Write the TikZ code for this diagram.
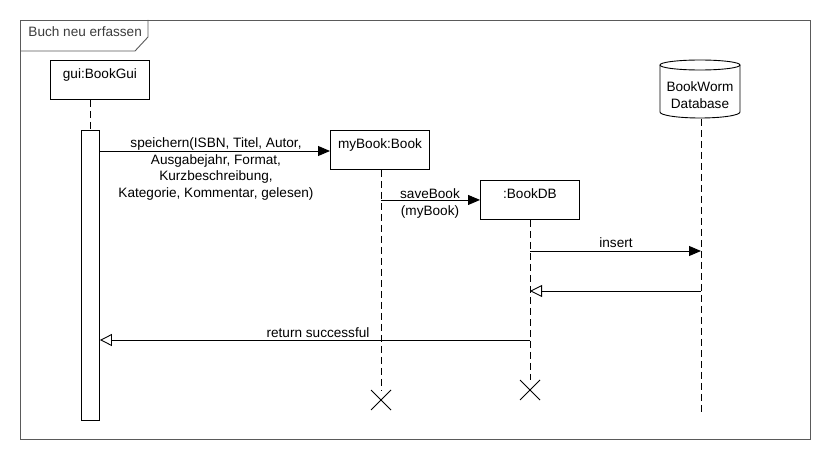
\documentclass[tikz,border=0pt]{standalone}
\usepackage{fontspec}
\setmainfont{Liberation Sans}
\usetikzlibrary{arrows.meta,calc}
\definecolor{framecol}{HTML}{5A5A5A}
\definecolor{labelcol}{HTML}{3C3C3C}
\begin{document}
\begin{tikzpicture}[x=1pt,y=-1pt,
  font=\fontsize{13.6}{16.5}\selectfont,
  line width=0.9pt,
  objbox/.style={draw, inner sep=0pt, minimum width=99pt, anchor=north west, text height=18pt, text depth=21pt},
  life/.style={dash pattern=on 7pt off 4pt},
  call/.style={-{Triangle[length=12pt,width=10pt]}},
  reply/.style={-{Triangle[open,length=12pt,width=12pt]}},
  xmark/.style={line width=0.9pt},
  lbl/.style={inner sep=0pt}]
\useasboundingbox (0,0) rectangle (830,460);
\fill[white] (0,0) rectangle (830,460);
% frame
\node[draw=framecol, inner sep=0pt, minimum width=790pt, minimum height=419pt, anchor=north west] (frame) at (20,20) {};
\draw[framecol] (frame.north west) ++(128,0) coordinate (p1) -- ++(0,17) -- ++(-13,14) -- (frame.north west |- 0,51);
\node[lbl, anchor=base west, text=labelcol] (ftitle) at (28,37) {Buch neu erfassen};
% objects
\node[objbox] (gui) at (50,60) {gui:BookGui};
\node[draw, inner sep=0pt, minimum width=18pt, minimum height=290pt, anchor=north west] (act) at (81,130) {};
\node[objbox] (mybook) at (330,130) {myBook:Book};
\node[objbox] (bookdb) at (480,180) {:BookDB};
% database cylinder
\node[inner sep=0pt, minimum width=80pt, minimum height=58pt, anchor=north west] (db) at (660,60) {};
\draw (db.north west) ++(0,5) coordinate (c1) -- ++(0,47)
  arc[start angle=180, end angle=360, x radius=40pt, y radius=6pt] -- ++(0,-47);
\draw (700,65) ellipse[x radius=40pt, y radius=5pt];
\node[lbl, anchor=base] (dbt1) at (700,92) {BookWorm};
\node[lbl, anchor=base] (dbt2) at (700,108) {Database};
% lifelines
\coordinate (myend) at (381,390);
\coordinate (dbend) at (530,380);
\coordinate (wend) at (701,412);
\draw[life] (act.north |- gui.south) -- (act.north);
\draw[life] (mybook.south -| myend) -- (myend);
\draw[life] (bookdb.south -| dbend) -- (dbend);
\draw[life] (db.south -| wend) -- (wend);
% destruction marks
\draw[xmark] (371,390) -- (391,410) (371,410) -- (391,390);
\draw[xmark] (520,380) -- (540,400) (520,400) -- (540,380);
% messages
\draw[call] (act.east |- 0,151) -- (mybook.west |- 0,151);
\node[lbl, align=center, anchor=north] (m1) at (216,137.5) {speichern(ISBN, Titel, Autor,\\Ausgabejahr, Format,\\Kurzbeschreibung,\\Kategorie, Kommentar, gelesen)};
\draw[call] (myend |- bookdb.west) -- (bookdb.west);
\node[lbl, anchor=base] (m2a) at (430,198) {saveBook};
\node[lbl, anchor=base] (m2b) at (430,215) {(myBook)};
\draw[call] (dbend |- 0,251) -- (wend |- 0,251);
\node[lbl, anchor=base] (m3) at (616,247) {insert};
\draw[reply] (wend |- 0,291) -- (dbend |- 0,291);
\draw[reply] (dbend |- 0,340) -- (act.east |- 0,340);
\node[lbl, anchor=base] (m5) at (318,337) {return successful};
\end{tikzpicture}
\end{document}
